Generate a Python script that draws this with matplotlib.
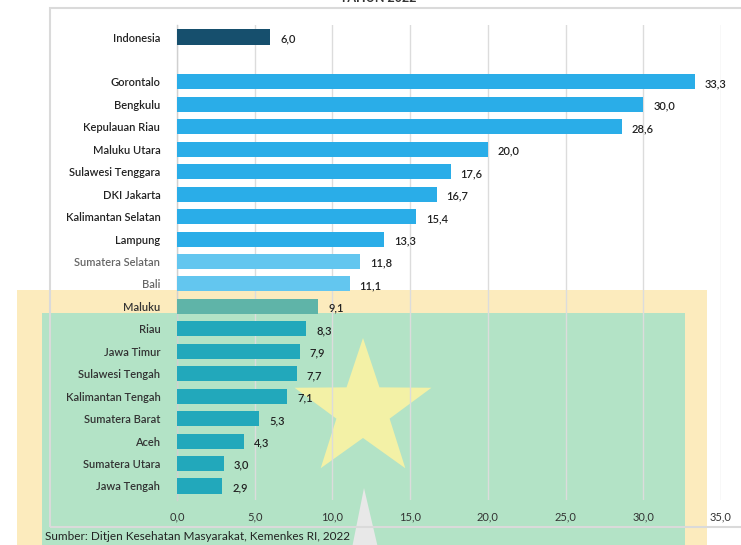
import numpy as np
import matplotlib
matplotlib.use("Agg")
import matplotlib.pyplot as plt
from matplotlib.patches import Rectangle, Polygon

plt.rcParams['font.family'] = ['Lato', 'DejaVu Sans']

# ---- data ----
categories = ["Indonesia", "", "Gorontalo", "Bengkulu", "Kepulauan Riau", "Maluku Utara",
              "Sulawesi Tenggara", "DKI Jakarta", "Kalimantan Selatan", "Lampung",
              "Sumatera Selatan", "Bali", "Maluku", "Riau", "Jawa Timur", "Sulawesi Tengah",
              "Kalimantan Tengah", "Sumatera Barat", "Aceh", "Sumatera Utara", "Jawa Tengah"]
values = [6.0, None, 33.3, 30.0, 28.6, 20.0, 17.6, 16.7, 15.4, 13.3, 11.8, 11.1,
          9.1, 8.3, 7.9, 7.7, 7.1, 5.3, 4.3, 3.0, 2.9]
bar_colors = ["#164f6d", "none"] + ["#2aade8"] * 8 + ["#63c6ef"] * 2 + ["#5fb4a8"] + ["#22a8bb"] * 8
label_colors = ["#222222", "#222222"] + ["#222222"] * 8 + ["#666666"] * 2 + ["#333333"] * 9
xticks = [0, 5, 10, 15, 20, 25, 30, 35]
source = "Sumber: Ditjen Kesehatan Masyarakat, Kemenkes RI, 2022"
title = "TAHUN 2022"

W, H = 741, 545
fig = plt.figure(figsize=(W / 100, H / 100), dpi=100)
fig.patch.set_facecolor("white")

def fx(x): return x / W
def fy(y): return 1 - y / H

# ---- background watermark decoration ----
fig.patches.append(Rectangle((fx(17), fy(548)), fx(707) - fx(17), fy(290) - fy(548),
                             transform=fig.transFigure, facecolor="#fcebbd", edgecolor="none", zorder=0))
fig.patches.append(Rectangle((fx(42), fy(548)), fx(685) - fx(42), fy(313) - fy(548),
                             transform=fig.transFigure, facecolor="#b3e3c6", edgecolor="none", zorder=0))
cx, cy, R, r = 363, 410, 72, 28
pts = []
for k in range(10):
    ang = np.pi / 2 + k * np.pi / 5
    rad = R if k % 2 == 0 else r
    pts.append((fx(cx + rad * np.cos(ang)), fy(cy - rad * np.sin(ang))))
fig.patches.append(Polygon(pts, closed=True, transform=fig.transFigure,
                           facecolor="#f3f1a6", edgecolor="none", zorder=0.5))
fig.patches.append(Polygon([(fx(352), fy(548)), (fx(364), fy(488)), (fx(378), fy(548))], closed=True,
                           transform=fig.transFigure, facecolor="#e8e8e8", edgecolor="none", zorder=0.5))

# chart frame
fig.patches.append(Rectangle((fx(50), fy(527)), fx(760) - fx(50), fy(8) - fy(527),
                             transform=fig.transFigure, facecolor="none", edgecolor="#dadada",
                             linewidth=1.5, zorder=1))

# ---- axes ----
top_px, bot_px = 25, 500
ax = fig.add_axes([fx(177), fy(bot_px), fx(721) - fx(177), (bot_px - top_px) / H])
ax.set_facecolor("none")
ax.set_zorder(2)

step = (486 - 37) / 20
y_top = (top_px - 37) / step
y_bot = (bot_px - 37) / step
ypos = np.arange(len(categories))

for i, (v, c) in enumerate(zip(values, bar_colors)):
    if v is None:
        continue
    ax.barh(ypos[i], v, height=0.67, color=c, zorder=3)
    ax.text(v + 0.65, ypos[i] + 0.08, f"{v:.1f}".replace(".", ","), va="center", ha="left",
            fontsize=8, color="#222222", fontweight="semibold")

ax.set_xlim(0, 35)
ax.set_ylim(y_bot, y_top)
ax.set_xticks(xticks)
ax.set_xticklabels([f"{t:.1f}".replace(".", ",") for t in xticks], fontsize=8, color="#333333")
ax.set_yticks(ypos)
ax.set_yticklabels(categories, fontsize=8, fontweight="semibold")
for lbl, col in zip(ax.get_yticklabels(), label_colors):
    lbl.set_color(col)
ax.tick_params(axis="both", length=0)
ax.tick_params(axis="y", pad=12)
ax.tick_params(axis="x", pad=8)
ax.grid(axis="x", color="#dcdcdc", linewidth=1, zorder=0)
ax.set_axisbelow(True)
for s in ["top", "right", "bottom"]:
    ax.spines[s].set_visible(False)
ax.spines["left"].set_color("#d0d0d0")
ax.spines["left"].set_linewidth(1)

fig.text(fx(45), fy(537), source, fontsize=8.5, color="#222222", va="center", ha="left")
fig.text(fx(378), fy(-2), title, fontsize=9, fontweight="bold", color="#333333", va="center", ha="center")

fig.savefig("out.png", dpi=100)
